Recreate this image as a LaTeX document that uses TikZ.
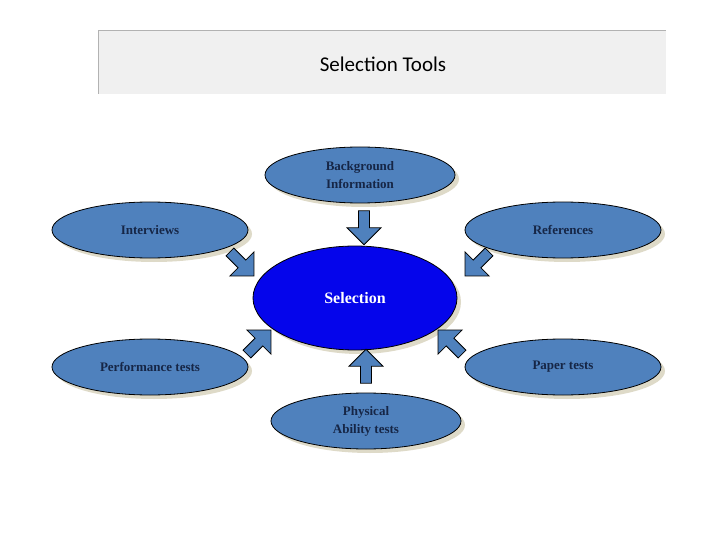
\documentclass[tikz,border=0pt]{standalone}
\usepackage{fontspec}
\setmainfont{Liberation Serif}
\newfontfamily\titlefont{Carlito}
\usetikzlibrary{shapes.geometric,shapes.arrows,shadows}
\definecolor{ellblue}{RGB}{79,129,189}
\definecolor{navytext}{RGB}{22,38,70}
\definecolor{selblue}{RGB}{5,5,235}
\definecolor{shadowtan}{RGB}{222,218,200}
\tikzset{
  tool/.style={ellipse, draw=black, thick, fill=ellblue,
    minimum width=196pt, minimum height=56pt, align=center,
    font=\bfseries\fontsize{13}{18}\selectfont, text=navytext,
    drop shadow={fill=shadowtan, opacity=1, shadow xshift=4pt, shadow yshift=-4pt}},
  blockarrow/.style={single arrow, draw=black, thick, fill=ellblue,
    minimum width=34pt, single arrow head extend=5pt,
    minimum height=34pt, inner sep=2pt}
}
\begin{document}
\begin{tikzpicture}[x=1pt,y=-1pt]
\useasboundingbox (0,0) rectangle (720,540);
% title bar
\fill[gray!12] (98,30) rectangle (666,94);
\draw[gray!60] (98,94) -- (98,30) -- (666,30);
\node[font=\titlefont\fontsize{21}{24}\selectfont] (title) at (383,64) {Selection Tools};
% nodes
\node[tool, minimum width=190pt] (bg) at (360,175) {Background\\Information};
\node[tool] (int) at (150,230) {Interviews};
\node[tool] (ref) at (563,230) {References};
\node[tool] (perf) at (150,367) {Performance tests};
\node[tool] (paper) at (563,367) {Paper tests};
\node[tool, minimum width=190pt] (phys) at (366,421) {Physical\\Ability tests};
\node[tool, fill=selblue, text=white, minimum width=204pt, minimum height=104pt,
  font=\bfseries\fontsize{16}{20}\selectfont] (sel) at (355,298) {Selection};
% block arrows
\node[blockarrow, rotate=-90] (a1) at (364,225) {};
\node[blockarrow, rotate=-45] (a2) at (240,262) {};
\node[blockarrow, rotate=-135] (a3) at (479,262) {};
\node[blockarrow, rotate=45] (a4) at (257,344) {};
\node[blockarrow, rotate=135] (a5) at (452,344) {};
\node[blockarrow, rotate=90] (a6) at (366,369) {};
\end{tikzpicture}
\end{document}
